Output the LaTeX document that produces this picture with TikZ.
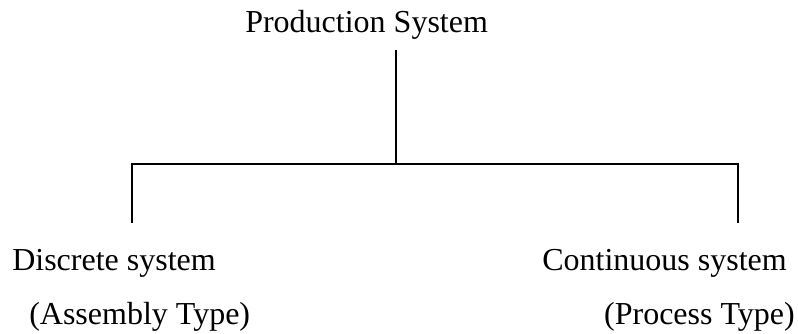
\documentclass[tikz,border=0pt]{standalone}
\usepackage{fontspec}
\setmainfont{Liberation Serif}
\usetikzlibrary{positioning}

\begin{document}
\begin{tikzpicture}[x=0.75pt, y=-0.75pt,
			every node/.style={font=\fontsize{24}{28}\selectfont, inner sep=0pt, anchor=base west},
			branch/.style={draw, line width=1.5pt}]
			\useasboundingbox (0,0) rectangle (798,334);
			\node (ps) at (245,33) {Production System};
			\node (ds) at (12,271) {Discrete system};
			\node (at) at (29,324) {(Assembly Type)};
			\node[anchor=base east] (cs) at (787,271) {Continuous system};
			\node[anchor=base east] (pt) at (795,324) {(Process Type)};
			% tree joints
			\coordinate (stem) at (396,50);
			\coordinate (joint) at (396,164);
			\coordinate (lcorner) at (132,164);
			\coordinate (rcorner) at (738,164);
			\coordinate (lfoot) at (132,223);
			\coordinate (rfoot) at (738,223);
			\draw[branch] (stem) -- (joint);
			\draw[branch] (lfoot) -- (lcorner) -- (rcorner) -- (rfoot);
		\end{tikzpicture}
\end{document}
